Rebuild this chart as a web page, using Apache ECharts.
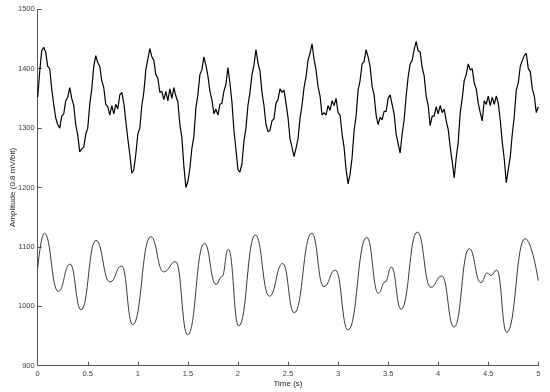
<!DOCTYPE html>
<html>
<head>
<meta charset="utf-8">
<script src="https://cdn.jsdelivr.net/npm/echarts@6/dist/echarts.min.js"></script>
<style>
  html, body { margin: 0; padding: 0; background: #fff; }
  #chart { width: 550px; height: 392px; }
</style>
</head>
<body>
<div id="chart"></div>
<script>
  // raw signal, sampled every 0.02 s from t = 0
  const rawStep = 0.02
  const rawValues = [
    1352, 1395, 1430, 1436, 1428, 1404, 1400, 1366, 1340, 1317,
    1306, 1300, 1320, 1324, 1346, 1352, 1368, 1350, 1338, 1306,
    1288, 1260, 1265, 1268, 1290, 1300, 1340, 1366, 1404, 1422,
    1410, 1404, 1380, 1368, 1340, 1336, 1322, 1338, 1324, 1340,
    1332, 1356, 1360, 1342, 1312, 1282, 1256, 1224, 1230, 1256,
    1290, 1300, 1338, 1360, 1398, 1416, 1434, 1420, 1414, 1390,
    1384, 1360, 1362, 1348, 1362, 1346, 1366, 1350, 1368, 1354,
    1344, 1306, 1284, 1236, 1200, 1210, 1232, 1266, 1286, 1334,
    1356, 1390, 1398, 1420, 1406, 1388, 1362, 1348, 1324, 1332,
    1322, 1340, 1342, 1362, 1374, 1402, 1376, 1344, 1296, 1264,
    1230, 1226, 1240, 1278, 1300, 1338, 1360, 1390, 1406, 1432,
    1410, 1396, 1360, 1338, 1306, 1294, 1296, 1312, 1316, 1342,
    1348, 1366, 1360, 1364, 1342, 1318, 1282, 1268, 1252, 1266,
    1282, 1316, 1338, 1368, 1386, 1414, 1426, 1442, 1416, 1398,
    1370, 1354, 1322, 1326, 1322, 1338, 1330, 1346, 1338, 1350,
    1326, 1322, 1290, 1268, 1230, 1206, 1222, 1250, 1296, 1320,
    1364, 1380, 1408, 1412, 1432, 1420, 1404, 1370, 1356, 1322,
    1306, 1318, 1314, 1328, 1328, 1350, 1356, 1340, 1324, 1290,
    1274, 1258, 1290, 1314, 1354, 1386, 1408, 1414, 1432, 1446,
    1430, 1428, 1402, 1388, 1354, 1338, 1304, 1320, 1320, 1336,
    1324, 1338, 1326, 1332, 1312, 1298, 1268, 1244, 1216, 1250,
    1276, 1326, 1350, 1380, 1390, 1408, 1398, 1400, 1376, 1366,
    1342, 1326, 1312, 1346, 1340, 1354, 1338, 1352, 1340, 1354,
    1342, 1314, 1276, 1248, 1208, 1230, 1252, 1290, 1320, 1364,
    1376, 1404, 1414, 1422, 1426, 1400, 1395, 1366, 1354, 1326,
    1336
  ]

  // filtered signal: turning points (time in s, amplitude)
  const filtTimes = [
    0, 0.066, 0.206, 0.323, 0.433, 0.582, 0.722, 0.839, 0.949, 1.129,
    1.258, 1.378, 1.498, 1.665, 1.781, 1.84, 1.904, 2.008, 2.174, 2.314,
    2.447, 2.562, 2.737, 2.858, 2.973, 3.1, 3.287, 3.403, 3.47, 3.533,
    3.629, 3.792, 3.926, 4.036, 4.159, 4.31, 4.427, 4.491, 4.527, 4.585,
    4.685, 4.868, 5.0
  ]
  const filtValues = [
    1064, 1123, 1025, 1071, 994, 1111, 1041, 1068, 969, 1117,
    1058, 1075, 952, 1106, 1037, 1050, 1096, 967, 1120, 1017,
    1072, 989, 1123, 1033, 1061, 960, 1116, 1022, 1041, 1066,
    995, 1125, 1032, 1051, 965, 1097, 1040, 1056, 1052, 1061,
    956, 1114, 1043
  ]

  const xTicks = { min: 0, max: 5, interval: 0.5 }
  const yTicks = { min: 900, max: 1500, interval: 100 }

  const rawData = rawValues.map((v, i) => [+(i * rawStep).toFixed(2), v])
  const filtData = filtTimes.map((t, i) => [t, filtValues[i]])

  const chart = echarts.init(document.getElementById('chart'), null, { renderer: 'canvas' })

  const font = 'Liberation Sans, Arial, sans-serif'
  const axisText = { color: '#404040', fontSize: 7.5, fontFamily: font }

  chart.setOption({
    animation: false,
    backgroundColor: '#fff',
    grid: {
      left: 37.7, right: 11.7, top: 9.3, bottom: 26.3,
      containLabel: false,
      outerBoundsMode: 'none'
    },
    xAxis: {
      type: 'value',
      min: xTicks.min,
      max: xTicks.max,
      interval: xTicks.interval,
      name: 'Time (s)',
      nameLocation: 'middle',
      nameGap: 14,
      nameMoveOverlap: false,
      nameTextStyle: { color: '#262626', fontSize: 8, fontFamily: font },
      axisLine: { show: true, lineStyle: { color: '#555', width: 1 } },
      axisTick: { show: true, inside: true, length: 4, lineStyle: { color: '#555' } },
      axisLabel: { ...axisText, margin: 4, formatter: (v) => String(v) },
      splitLine: { show: false }
    },
    yAxis: {
      type: 'value',
      min: yTicks.min,
      max: yTicks.max,
      interval: yTicks.interval,
      name: 'Amplitude (0.8 mV/bit)',
      nameLocation: 'middle',
      nameGap: 21,
      nameRotate: 90,
      nameMoveOverlap: false,
      nameTextStyle: { color: '#262626', fontSize: 8, fontFamily: font },
      axisLine: { show: true, lineStyle: { color: '#555', width: 1 } },
      axisTick: { show: true, inside: true, length: 4, lineStyle: { color: '#555' } },
      axisLabel: { ...axisText, margin: 3, formatter: (v) => String(v) },
      splitLine: { show: false }
    },
    series: [
      {
        name: 'raw',
        type: 'line',
        data: rawData,
        symbol: 'none',
        lineStyle: { color: '#000', width: 1.2 }
      },
      {
        name: 'filtered',
        type: 'line',
        data: filtData,
        symbol: 'none',
        smooth: 0.5,
        smoothMonotone: 'x',
        lineStyle: { color: '#3a3a3a', width: 1 }
      }
    ]
  })
</script>
</body>
</html>
